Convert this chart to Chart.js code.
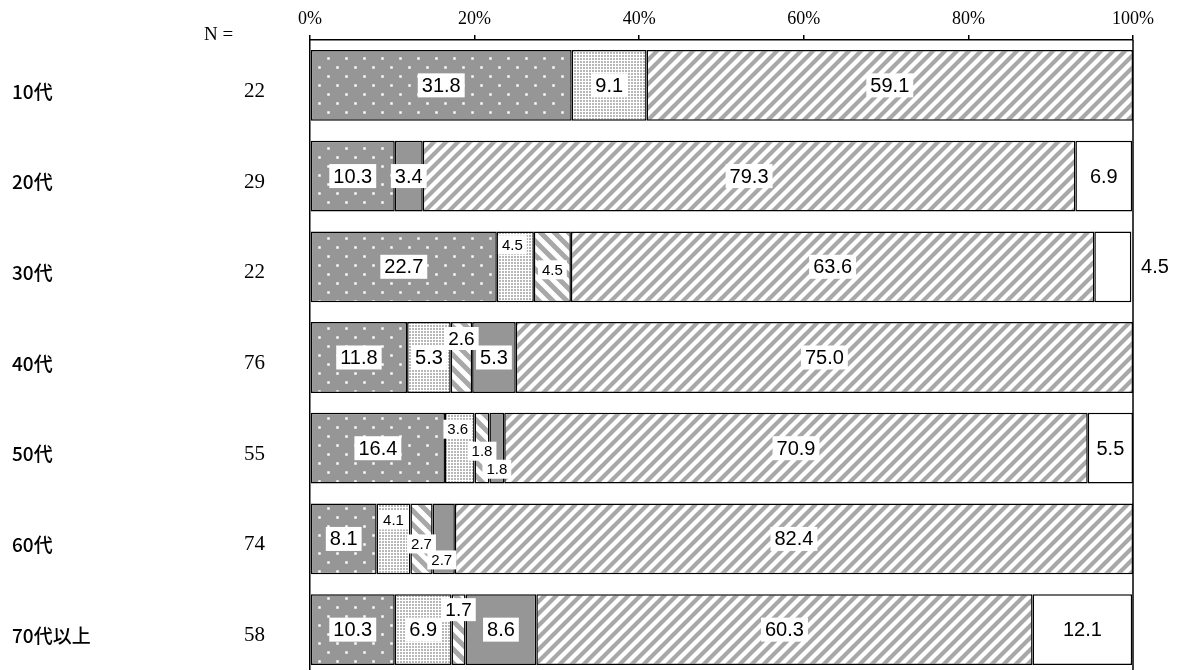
<!DOCTYPE html>
<html>
<head>
<meta charset="utf-8">
<script src="https://cdn.jsdelivr.net/npm/chart.js@4"></script>
<style>
  html, body { margin: 0; padding: 0; background: #fff; overflow: hidden; }
  #wrap { width: 1177px; height: 675px; position: relative; }
</style>
</head>
<body>
<div id="wrap"><canvas id="ageChart"></canvas></div>
<script>
// Age groups and sample sizes
const ages = ['10代', '20代', '30代', '40代', '50代', '60代', '70代以上'];
const nCounts = [22, 29, 22, 76, 55, 74, 58];

// Percentages per segment (left to right)
const seg1 = [31.8, 10.3, 22.7, 11.8, 16.4, 8.1, 10.3];   // gray with white dots
const seg2 = [9.1, 0, 4.5, 5.3, 3.6, 4.1, 6.9];           // fine dots
const seg3 = [0, 0, 4.5, 2.6, 1.8, 2.7, 1.7];             // back-slash stripes
const seg4 = [0, 3.4, 0, 5.3, 1.8, 2.7, 8.6];             // solid gray
const seg5 = [59.1, 79.3, 63.6, 75.0, 70.9, 82.4, 60.3];  // slash stripes
const seg6 = [0, 6.9, 4.5, 0, 5.5, 0, 12.1];              // white

const xTicks = [0, 20, 40, 60, 80, 100];

// Label nudges for thin segments: key "row,segment" -> offset from segment centre
const labelNudge = {
  '2,1': { dx: -3, dy: -22, size: 15 },
  '2,2': { dx: 0, dy: 3, size: 15 },
  '2,5': { outside: true },
  '3,2': { dx: 0, dy: -19, size: 19 },
  '4,1': { dx: -2, dy: -19, size: 15 },
  '4,2': { dx: 0, dy: 3, size: 15 },
  '4,3': { dx: 0, dy: 21, size: 15 },
  '5,1': { dx: 0, dy: -19, size: 15 },
  '5,2': { dx: 0, dy: 5, size: 15 },
  '5,3': { dx: -2, dy: 21, size: 15 },
  '6,2': { dx: 0, dy: -20, size: 19 }
};

// ---- fill patterns ----
function tile(size, draw) {
  const c = document.createElement('canvas');
  c.width = size; c.height = size;
  const g = c.getContext('2d');
  draw(g, size);
  return document.createElement('canvas').getContext('2d').createPattern(c, 'repeat');
}

const grayDots = tile(18, (g, s) => {
  g.fillStyle = '#969696';
  g.fillRect(0, 0, s, s);
  g.fillStyle = 'rgba(255,255,255,0.4)';
  g.fillRect(3, 3, 3, 3);
  g.fillRect(12, 12, 3, 3);
  g.fillStyle = '#fff';
  g.fillRect(3.5, 3.5, 2, 2);
  g.fillRect(12.5, 12.5, 2, 2);
});

const fineDots = tile(3, (g, s) => {
  g.fillStyle = '#fff';
  g.fillRect(0, 0, s, s);
  g.fillStyle = '#b8b8b8';
  g.fillRect(1, 1, 2, 2);
});

function stripes(s, width, color, forward) {
  return tile(s, (g) => {
    g.fillStyle = '#fff';
    g.fillRect(0, 0, s, s);
    g.strokeStyle = color;
    g.lineWidth = width;
    g.beginPath();
    for (let k = -1; k <= 2; k++) {
      if (forward) {
        g.moveTo(-s, k * s + s); g.lineTo(k * s + s, -s);
      } else {
        g.moveTo(-s, -k * s - s); g.lineTo(2 * s, 2 * s - k * s);
      }
    }
    g.stroke();
  });
}

const slashFill = stripes(12, 4.2, '#a8a8a8', true);
const backFill = stripes(14, 5, '#a8a8a8', false);

const fills = [grayDots, fineDots, backFill, '#969696', slashFill, '#ffffff'];
const segs = [seg1, seg2, seg3, seg4, seg5, seg6];

const datasets = segs.map((vals, i) => ({
  label: 'seg' + (i + 1),
  data: vals.map(v => v > 0 ? v : null),
  backgroundColor: fills[i],
  borderColor: '#000',
  borderWidth: 1.5,
  borderSkipped: false,
  barPercentage: 0.78,
  categoryPercentage: 1.0
}));

// frame line, left side texts and value boxes
const decorPlugin = {
  id: 'decor',
  afterDatasetsDraw(chart) {
    const ctx = chart.ctx;
    const area = chart.chartArea;
    const yScale = chart.scales.y;
    ctx.save();

    // right frame line
    ctx.strokeStyle = '#000';
    ctx.lineWidth = 1.5;
    ctx.beginPath();
    ctx.moveTo(area.right, area.top);
    ctx.lineTo(area.right, area.bottom);
    ctx.stroke();

    // value labels
    chart.data.datasets.forEach((ds, di) => {
      const meta = chart.getDatasetMeta(di);
      meta.data.forEach((bar, ri) => {
        const v = ds.data[ri];
        if (v == null) return;
        const nudge = labelNudge[ri + ',' + di] || {};
        const size = nudge.size || 20;
        const txt = v.toFixed(1);
        let cx = (bar.x + bar.base) / 2 + (nudge.dx || 0);
        let cy = bar.y + (nudge.dy || 0);
        if (nudge.outside) cx = area.right + 22;
        ctx.font = size + 'px "Liberation Sans", Arial, sans-serif';
        const w = ctx.measureText(txt).width;
        if (!nudge.outside) {
          ctx.fillStyle = '#fff';
          ctx.fillRect(cx - w / 2 - 4, cy - size / 2 - 2, w + 8, size + 4);
        }
        ctx.fillStyle = '#000';
        ctx.textAlign = 'center';
        ctx.textBaseline = 'middle';
        ctx.fillText(txt, cx, cy + 1);
      });
    });

    // age names and N
    ages.forEach((name, i) => {
      const y = yScale.getPixelForValue(i) + 6;
      ctx.fillStyle = '#000';
      ctx.textBaseline = 'middle';
      ctx.textAlign = 'left';
      ctx.font = '500 19px "Noto Sans CJK JP", sans-serif';
      ctx.fillText(name, 12, y);
      ctx.textAlign = 'right';
      ctx.font = '21px "Liberation Serif", serif';
      ctx.fillText(String(nCounts[i]), 265, y);
    });
    ctx.textAlign = 'left';
    ctx.font = '19px "Liberation Serif", serif';
    ctx.fillText('N =', 204, 35);

    ctx.restore();
  }
};

const ctx = document.getElementById('ageChart').getContext('2d');

new Chart(ctx, {
  type: 'bar',
  data: { labels: ages, datasets: datasets },
  options: {
    indexAxis: 'y',
    responsive: true,
    maintainAspectRatio: false,
    animation: false,
    layout: { padding: { left: 310, right: 44, top: 0, bottom: 0 } },
    plugins: {
      legend: { display: false },
      tooltip: { enabled: false }
    },
    scales: {
      x: {
        position: 'top',
        stacked: true,
        min: 0,
        max: 100,
        afterBuildTicks: s => { s.ticks = xTicks.map(v => ({ value: v })); },
        afterFit: s => { s.height = 40; },
        grid: { drawOnChartArea: false, drawTicks: true, tickLength: 5, color: '#000', lineWidth: 1.5 },
        border: { display: true, color: '#000', width: 1.5 },
        ticks: {
          padding: 5,
          color: '#000',
          font: { family: '"Liberation Serif", serif', size: 18 },
          callback: v => v + '%'
        }
      },
      y: {
        stacked: true,
        afterFit: s => { s.width = 0; },
        grid: { display: false, drawTicks: false },
        border: { display: true, color: '#000', width: 1.5 },
        ticks: { display: false }
      }
    }
  },
  plugins: [decorPlugin]
});
</script>
</body>
</html>
